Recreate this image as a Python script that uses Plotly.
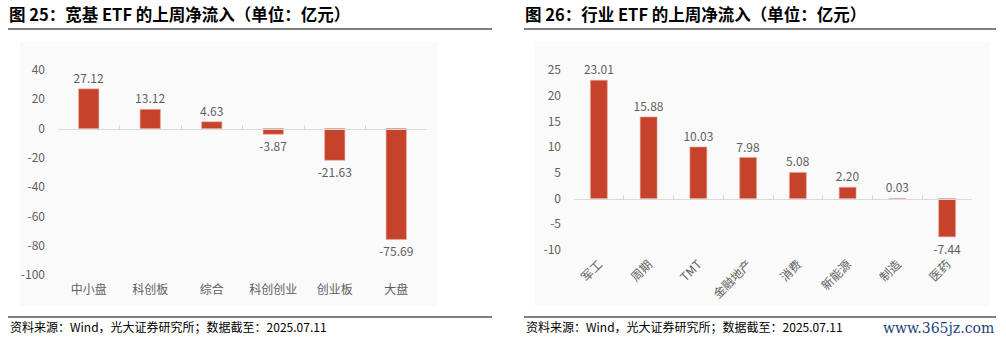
import plotly.graph_objects as go

W, H = 1006, 346

left_title = "图 25：宽基 ETF 的上周净流入（单位：亿元）"
right_title = "图 26：行业 ETF 的上周净流入（单位：亿元）"
source_text = "资料来源：Wind，光大证券研究所；数据截至：2025.07.11"
watermark = "www.365jz.com"

left_cats = ["中小盘", "科创板", "综合", "科创创业", "创业板", "大盘"]
left_vals = [27.12, 13.12, 4.63, -3.87, -21.63, -75.69]
left_yticks = [40, 20, 0, -20, -40, -60, -80, -100]

right_cats = ["军工", "周期", "TMT", "金融地产", "消费", "新能源", "制造", "医药"]
right_vals = [23.01, 15.88, 10.03, 7.98, 5.08, 2.20, 0.03, -7.44]
right_yticks = [25, 20, 15, 10, 5, 0, -5, -10]

FONT = "Noto Sans CJK SC"
BAR = "#C5432A"
GRAY = "#5f5f5f"
AXC = "#d9d9d9"


def fx(px):
    return px / W


def fy(py):
    return 1 - py / H


L_xdom = [fx(58), fx(427)]
L_ydom = [fy(275), fy(70)]
L_yr = [min(left_yticks), max(left_yticks)]
R_xdom = [fx(574), fx(972)]
R_ydom = [fy(250), fy(70)]
R_yr = [min(right_yticks), max(right_yticks)]


def zero_pos(ydom, yr):
    return ydom[0] + (0 - yr[0]) / (yr[1] - yr[0]) * (ydom[1] - ydom[0])


fig = go.Figure()

fig.add_trace(go.Bar(
    x=left_cats, y=left_vals, xaxis="x", yaxis="y",
    marker=dict(color=BAR, line=dict(color="#e8a898", width=0.6)),
    width=0.33,
    text=[f"{v:.2f}" for v in left_vals], textposition="outside",
    textfont=dict(family=FONT, size=12, color=GRAY),
    constraintext="none",
    cliponaxis=False, showlegend=False, hoverinfo="skip",
))
fig.add_trace(go.Bar(
    x=left_cats, y=[0] * len(left_cats), xaxis="x3", yaxis="y",
    marker=dict(opacity=0), showlegend=False, hoverinfo="skip",
))
fig.add_trace(go.Bar(
    x=right_cats, y=right_vals, xaxis="x2", yaxis="y2",
    marker=dict(color=BAR, line=dict(color="#e8a898", width=0.6)),
    width=0.34,
    text=[f"{v:.2f}" for v in right_vals], textposition="outside",
    textfont=dict(family=FONT, size=12, color=GRAY),
    constraintext="none",
    cliponaxis=False, showlegend=False, hoverinfo="skip",
))
fig.add_trace(go.Bar(
    x=right_cats, y=[0] * len(right_cats), xaxis="x4", yaxis="y2",
    marker=dict(opacity=0), showlegend=False, hoverinfo="skip",
))

tickfont = dict(family=FONT, size=12, color=GRAY)

fig.update_layout(
    width=W, height=H,
    margin=dict(l=0, r=0, t=0, b=0, autoexpand=False),
    paper_bgcolor="white", plot_bgcolor="rgba(0,0,0,0)",
    font=dict(family=FONT),
    xaxis=dict(domain=L_xdom, anchor="y", type="category",
               range=[-0.5, len(left_cats) - 0.5], automargin=False,
               showline=False, showgrid=False, zeroline=False, ticks="",
               tickfont=tickfont, ticklabelstandoff=6, fixedrange=True),
    yaxis=dict(domain=L_ydom, anchor="x", range=L_yr, automargin=False,
               tickvals=left_yticks, ticktext=[str(v) for v in left_yticks],
               showgrid=False, zeroline=False,
               showline=False, ticks="", tickfont=tickfont,
               ticklabelstandoff=12),
    xaxis3=dict(overlaying="x", anchor="free", automargin=False,
                position=zero_pos(L_ydom, L_yr), type="category",
                range=[-0.5, len(left_cats) - 0.5],
                showline=True, linecolor=AXC, linewidth=1,
                ticks="inside", tickson="boundaries", ticklen=4,
                tickcolor=AXC, showticklabels=False, showgrid=False,
                zeroline=False),
    xaxis2=dict(domain=R_xdom, anchor="y2", type="category",
                range=[-0.5, len(right_cats) - 0.5], automargin=False,
                showline=False, showgrid=False, zeroline=False, ticks="",
                tickangle=-45, tickfont=tickfont, ticklabelstandoff=4),
    yaxis2=dict(domain=R_ydom, anchor="x2", range=R_yr, automargin=False,
                tickvals=right_yticks,
                ticktext=[str(v) for v in right_yticks],
                showgrid=False, zeroline=False,
                showline=False, ticks="", tickfont=tickfont,
                ticklabelstandoff=12),
    xaxis4=dict(overlaying="x2", anchor="free", automargin=False,
                position=zero_pos(R_ydom, R_yr), type="category",
                range=[-0.5, len(right_cats) - 0.5],
                showline=True, linecolor=AXC, linewidth=1,
                ticks="inside", tickson="boundaries", ticklen=4,
                tickcolor=AXC, showticklabels=False, showgrid=False,
                zeroline=False),
)

shapes = [
    dict(type="rect", xref="paper", yref="paper", x0=fx(20), x1=fx(437),
         y0=fy(306), y1=fy(42), fillcolor="#fafafa", line=dict(width=0),
         layer="below"),
    dict(type="rect", xref="paper", yref="paper", x0=fx(534), x1=fx(990),
         y0=fy(306), y1=fy(42), fillcolor="#fafafa", line=dict(width=0),
         layer="below"),
    dict(type="line", xref="paper", yref="paper", x0=fx(8), x1=fx(492),
         y0=fy(29), y1=fy(29), line=dict(color="black", width=1.2)),
    dict(type="line", xref="paper", yref="paper", x0=fx(524), x1=fx(996),
         y0=fy(29), y1=fy(29), line=dict(color="black", width=1.2)),
    dict(type="line", xref="paper", yref="paper", x0=fx(8), x1=fx(492),
         y0=fy(317), y1=fy(317), line=dict(color="black", width=1.2)),
    dict(type="line", xref="paper", yref="paper", x0=fx(524), x1=fx(996),
         y0=fy(317), y1=fy(317), line=dict(color="black", width=1.2)),
]
fig.update_layout(shapes=shapes)

annotations = [
    dict(text=f"<b>{left_title}</b>", x=fx(7), y=fy(14), xref="paper",
         yref="paper", xanchor="left", yanchor="middle", showarrow=False,
         font=dict(family=FONT, size=16.5, color="black")),
    dict(text=f"<b>{right_title}</b>", x=fx(523), y=fy(14), xref="paper",
         yref="paper", xanchor="left", yanchor="middle", showarrow=False,
         font=dict(family=FONT, size=16.5, color="black")),
    dict(text=source_text, x=fx(8), y=fy(326), xref="paper", yref="paper",
         xanchor="left", yanchor="middle", showarrow=False,
         font=dict(family=FONT, size=12, color="black")),
    dict(text=source_text, x=fx(524), y=fy(326), xref="paper", yref="paper",
         xanchor="left", yanchor="middle", showarrow=False,
         font=dict(family=FONT, size=12, color="black")),
    dict(text=watermark, x=fx(996), y=fy(328), xref="paper", yref="paper",
         xanchor="right", yanchor="middle", showarrow=False,
         font=dict(family="DejaVu Serif", size=14, color="#1d3f7c")),
]
fig.update_layout(annotations=annotations)

fig.write_html("out.html")
